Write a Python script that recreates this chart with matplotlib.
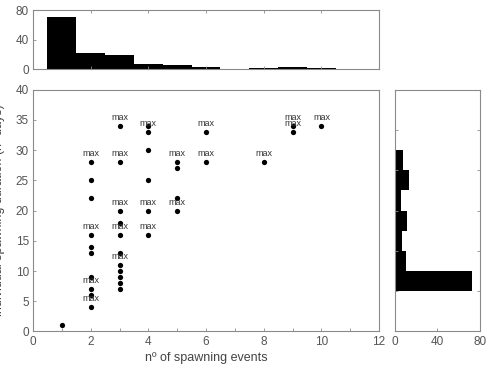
import numpy as np
import matplotlib
matplotlib.use("Agg")
import matplotlib.pyplot as plt

plt.rcParams['font.family'] = ['Liberation Sans', 'DejaVu Sans']

# scatter: number of spawning events vs individual spawning duration
events = [1,
          2, 2, 2, 2, 2, 2, 2, 2, 2, 2,
          3, 3, 3, 3, 3, 3, 3, 3, 3, 3, 3,
          4, 4, 4, 4, 4, 4,
          5, 5, 5, 5,
          6, 6,
          8,
          9, 9,
          10]
duration = [1,
            28, 25, 22, 16, 14, 13, 9, 7, 6, 4,
            34, 28, 20, 18, 16, 13, 11, 10, 9, 8, 7,
            34, 33, 30, 25, 20, 16,
            28, 27, 22, 20,
            33, 28,
            28,
            34, 33,
            34]
is_max = [0,
          1, 0, 0, 1, 0, 0, 0, 1, 0, 1,
          1, 1, 1, 0, 1, 0, 1, 0, 0, 0, 0,
          0, 1, 0, 0, 1, 1,
          1, 0, 0, 1,
          1, 1,
          1,
          1, 1,
          1]

# top histogram (events)
top_centers = [1, 2, 3, 4, 5, 6, 7, 8, 9, 10]
top_counts = [70, 22, 19, 7, 6, 3, 0, 1, 3, 1]

# right histogram (duration)
right_edges = [20/3, 10, 40/3, 50/3, 20, 70/3, 80/3, 30]
right_counts = [72, 11, 7, 12, 6, 13, 8]

frame_col = '#8a8a8a'
txt_col = '#555555'

fig = plt.figure(figsize=(4.86, 3.72), dpi=100)
ax = fig.add_axes([0.068, 0.109, 0.712, 0.650])
axt = fig.add_axes([0.068, 0.814, 0.712, 0.159])
axr = fig.add_axes([0.812, 0.109, 0.176, 0.650])

# main scatter
ax.plot(events, duration, 'ko', markersize=3.8, markeredgewidth=0)
for x, y, m in zip(events, duration, is_max):
    if m:
        ax.annotate('max', (x, y), xytext=(0, 6), textcoords='offset points',
                    ha='center', va='center', fontsize=6.5, color='#333333')
ax.set_xlim(0, 12)
ax.set_ylim(0, 40)
ax.set_xticks(np.arange(0, 13, 2))
ax.set_xticks(np.arange(0, 13, 1), minor=True)
ax.set_yticks(np.arange(0, 41, 5))
ax.set_xlabel("nº of spawning events", fontsize=9, color='#444444', labelpad=3)
ax.set_ylabel("individual spawning duration (nº days)", fontsize=9, color='#444444')
ax.yaxis.set_label_coords(-0.08, 0.5)

# top histogram
axt.bar(top_centers, top_counts, width=1.0, color='black')
axt.set_xlim(0, 12)
axt.set_ylim(0, 80)
axt.set_yticks([0, 40, 80])
axt.set_xticks(np.arange(0, 13, 2))
axt.set_xticklabels([])
axt.tick_params(axis='x', top=True)

# right histogram
widths = np.diff(right_edges)
axr.barh(right_edges[:-1], right_counts, height=widths, align='edge', color='black')
axr.set_ylim(0, 40)
axr.set_xlim(0, 80)
axr.set_xticks([0, 40, 80])
axr.set_yticks([20/3, 40/3, 20, 80/3, 100/3])
axr.set_yticklabels([])
axr.tick_params(axis='y', right=True)

for a in (ax, axt, axr):
    for s in a.spines.values():
        s.set_color(frame_col)
        s.set_linewidth(0.8)
    a.tick_params(which='both', direction='in', length=2.5, width=0.6,
                  color=frame_col, labelsize=8.5, labelcolor=txt_col, pad=3)

fig.savefig('out.png', dpi=100)
